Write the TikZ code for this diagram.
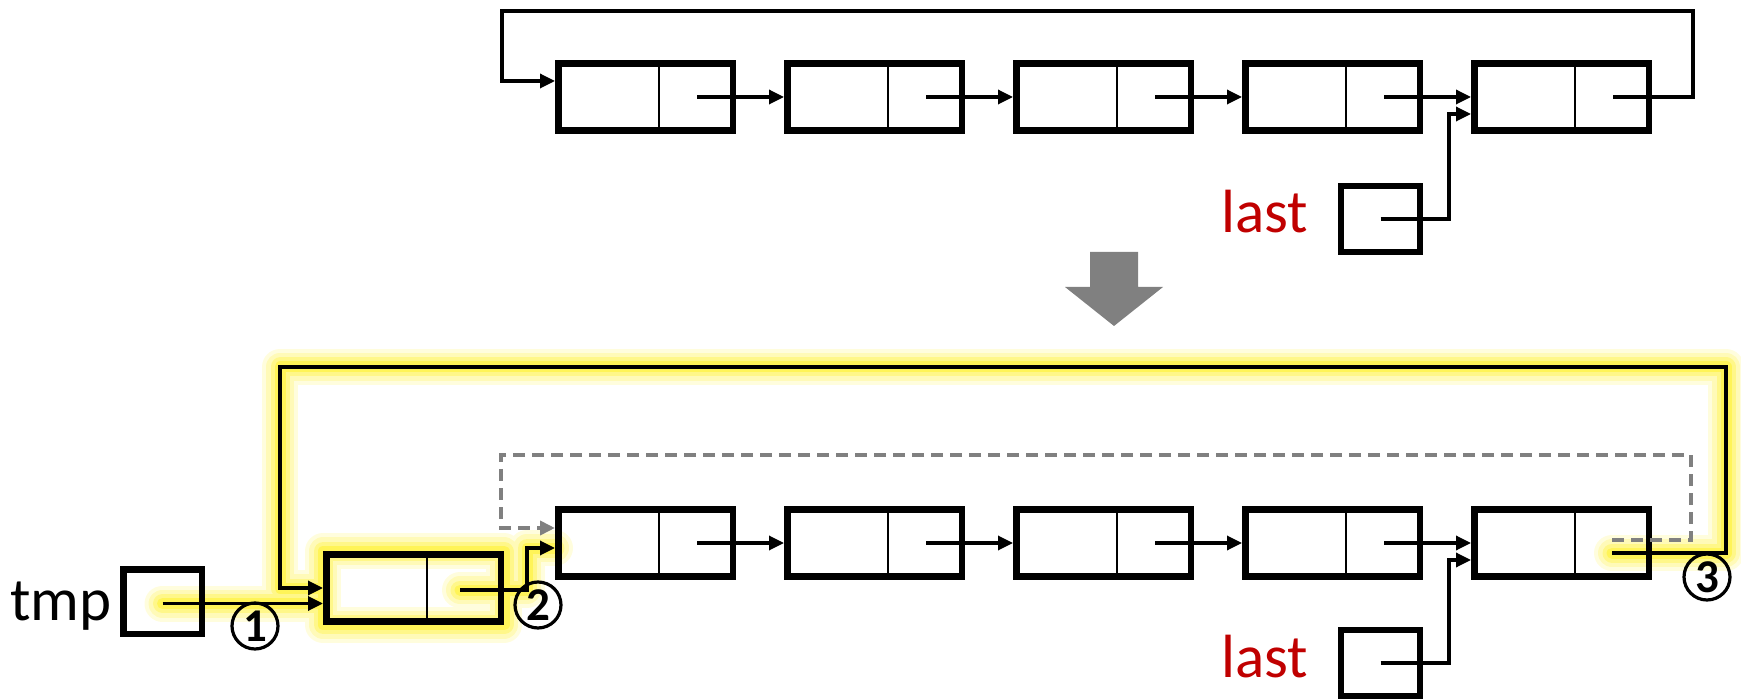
\documentclass[tikz,border=0pt]{standalone}
\usepackage{fontspec}
\setmainfont{Carlito}
\usetikzlibrary{arrows.meta,calc,backgrounds}
\definecolor{lastred}{RGB}{192,0,0}
\definecolor{arrgray}{RGB}{128,128,128}
\definecolor{glowy}{RGB}{255,240,30}
\tikzset{
 cell/.style={draw, line width=6.5pt, minimum width=174.5pt, minimum height=67pt, inner sep=0pt},
 ptrbox/.style={draw, line width=6.5pt, minimum width=79pt, minimum height=66pt, inner sep=0pt},
 ptr/.style={line width=3.3pt, -{Triangle[length=15pt,width=14pt]}},
 dptr/.style={ptr, line width=3.8pt, draw=arrgray, dash pattern=on 12pt off 7pt},
 divline/.style={line width=2.2pt},
 lbl/.style={font=\fontsize{61}{61}\selectfont, inner sep=0pt},
 num/.style={circle, draw, line width=3.2pt, minimum size=46pt, inner sep=0pt, font=\fontsize{47}{47}\selectfont\bfseries},
 glow/.style={draw=glowy, line cap=round, line join=round},
}
\begin{document}
\begin{tikzpicture}[x=1pt,y=-1pt]
\useasboundingbox (0,0) rectangle (1741,700);
% ---------- top list ----------
\foreach \i/\cx in {1/645.5,2/874.5,3/1103.5,4/1332.5,5/1561.5}{
  \node[cell] (t\i) at (\cx,97) {};
  \draw[divline] ($(t\i.north west)+(104,0)$) -- ($(t\i.south west)+(104,0)$);
  \coordinate (t\i p) at ($(t\i.west)+(142,0)$);
}
\foreach \i/\j in {1/2,2/3,3/4,4/5}{
  \draw[ptr] (t\i p) -- (t\j.west);
}
\coordinate (tfbR) at (1693,11);
\coordinate (tfbL) at (502,81);
\draw[ptr] (t5p) -| (tfbR) -| (tfbL) -- (tfbL -| t1.west);
\node[ptrbox] (tl) at (1380.5,219) {};
\node[lbl, text=lastred, anchor=base west] (tlt) at (1221,233) {last};
\coordinate (tlc) at ($(t5.west)+(-22,17)$);
\draw[ptr] (tl.center) -| (tlc) -- (tlc -| t5.west);
% ---------- big gray arrow ----------
\fill[arrgray] (1090,252) -- (1138,252) -- (1138,287) -- (1163,287) -- (1114,326) -- (1065,287) -- (1090,287) -- cycle;
% ---------- bottom list ----------
\foreach \i/\cx in {1/645.5,2/874.5,3/1103.5,4/1332.5,5/1561.5}{
  \node[cell] (b\i) at (\cx,543) {};
  \draw[divline] ($(b\i.north west)+(104,0)$) -- ($(b\i.south west)+(104,0)$);
  \coordinate (b\i p) at ($(b\i.west)+(142,0)$);
}
\foreach \i/\j in {1/2,2/3,3/4,4/5}{
  \draw[ptr] (b\i p) -- (b\j.west);
}
\node[cell] (n) at (413.5,588) {};
\draw[divline] ($(n.north west)+(104,0)$) -- ($(n.south west)+(104,0)$);
\node[ptrbox, minimum width=78.5pt, minimum height=64.5pt] (tmp) at (162.5,601.5) {};
\node[lbl, anchor=base west] (tmpt) at (10,620) {tmp};
\node[ptrbox] (bl) at (1380.5,663) {};
\node[lbl, text=lastred, anchor=base west] (blt) at (1221,677) {last};
% coordinates
\coordinate (b5s) at ($(b5.west)+(141,10)$);
\coordinate (b5d) at ($(b5.west)+(141,-3)$);
\coordinate (gR) at (1726,367);
\coordinate (gL) at (280,588);
\coordinate (dR) at (1691,455);
\coordinate (dL) at (501,528);
\coordinate (np) at ($(n.west)+(137,2)$);
\coordinate (nc) at (527,548);
\coordinate (tp) at ($(tmp.center)+(0,2)$);
\coordinate (blc) at ($(b5.west)+(-22,17)$);
% glow
\begin{scope}[on background layer]
\foreach \w/\o in {36/0.15,28/0.2,19/0.3,11/0.45}{
  \path[glow, line width=\w pt, draw opacity=\o]
    (b5s) -| (gR) -| (gL) -- (n.west)
    (n.north west) rectangle (n.south east)
    (tp) -- (tp -| n.west)
    (np) -| (nc) -- (nc -| b1.west);
}
\end{scope}
% connectors
\draw[dptr] (b5d) -| (dR) -| (dL) -- (dL -| b1.west);
\draw[ptr] (b5s) -| (gR) -| (gL) -- (n.west);
\draw[ptr] (tp) -- (tp -| n.west);
\draw[ptr] (np) -| (nc) -- (nc -| b1.west);
\draw[ptr] (bl.center) -| (blc) -- (blc -| b5.west);
% numbers
\node[num] (c1) at (255,626) {1};
\node[num] (c2) at (538,605) {2};
\node[num] (c3) at (1707,577) {3};
\end{tikzpicture}
\end{document}
